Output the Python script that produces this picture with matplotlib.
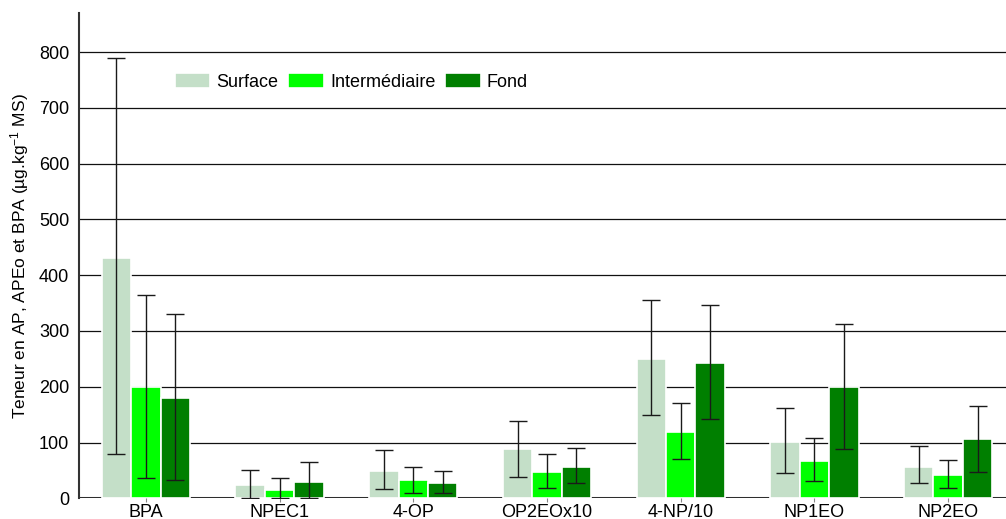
import numpy as np
import matplotlib
matplotlib.use('Agg')
import matplotlib.pyplot as plt

plt.rcParams['font.family'] = ['Liberation Sans', 'DejaVu Sans']
plt.rcParams['axes.unicode_minus'] = False
plt.rcParams['mathtext.default'] = 'regular'

categories = ['BPA', 'NPEC1', '4-OP', 'OP2EOx10', '4-NP/10', 'NP1EO', 'NP2EO']
series = ['Surface', 'Intermédiaire', 'Fond']
colors = ['#c4dfc8', '#00ff00', '#007f00']

surface = [431, 24, 49, 88, 250, 101, 57]
surface_lo = [80, 1, 17, 39, 149, 46, 27]
surface_hi = [790, 51, 87, 139, 356, 161, 93]

inter = [200, 15, 33, 47, 119, 67, 41]
inter_lo = [36, 0, 10, 19, 70, 31, 19]
inter_hi = [365, 36, 56, 79, 170, 108, 69]

fond = [179, 30, 27, 57, 243, 199, 106]
fond_lo = [33, 1, 9, 28, 143, 89, 48]
fond_hi = [331, 65, 49, 90, 346, 312, 165]

values = [surface, inter, fond]
lows = [surface_lo, inter_lo, fond_lo]
highs = [surface_hi, inter_hi, fond_hi]

fig = plt.figure(figsize=(10.06, 5.19), dpi=100)
ax = fig.add_axes([79 / 1006, 20.7 / 519, 936 / 1006, 485.3 / 519])

x = np.arange(len(categories))
w = 0.22
for i in range(3):
    v = np.array(values[i])
    lo = np.array(lows[i])
    hi = np.array(highs[i])
    pos = x + (i - 1) * w
    ax.bar(pos, v, w, color=colors[i], edgecolor='white', linewidth=1.2,
           label=series[i], zorder=2)
    ax.errorbar(pos, v, yerr=[v - lo, hi - v], fmt='none', ecolor='#1a1a1a',
                elinewidth=1, capsize=6.5, capthick=1, zorder=3)

ax.set_xlim(-0.5, 6.5)
ax.set_ylim(0, 870)
ax.set_yticks(range(0, 801, 100))
ax.set_xticks(x)
ax.set_xticklabels(categories)
ax.yaxis.grid(True, color='#111111', linewidth=0.9, zorder=0)
ax.set_axisbelow(True)
ax.axhline(0, color='#333333', linewidth=2.2, zorder=0.5)

for s in ['top', 'right', 'bottom']:
    ax.spines[s].set_visible(False)
ax.spines['left'].set_color('#333333')
ax.spines['left'].set_linewidth(1.5)

ax.tick_params(axis='y', length=0, pad=7, labelsize=13)
ax.tick_params(axis='x', length=3, color='#888888', pad=1, labelsize=13)

ax.set_ylabel('Teneur en AP, APEo et BPA (µg.kg$^{-1}$ MS)', fontsize=12.5, labelpad=6)

ax.legend(loc='center left', bbox_to_anchor=(0.1026, 0.858), ncol=3, frameon=False,
          fontsize=13, borderpad=0, borderaxespad=0, handlelength=1.95,
          handleheight=0.85, handletextpad=0.35, columnspacing=0.55)

fig.savefig('out.png', dpi=100)
